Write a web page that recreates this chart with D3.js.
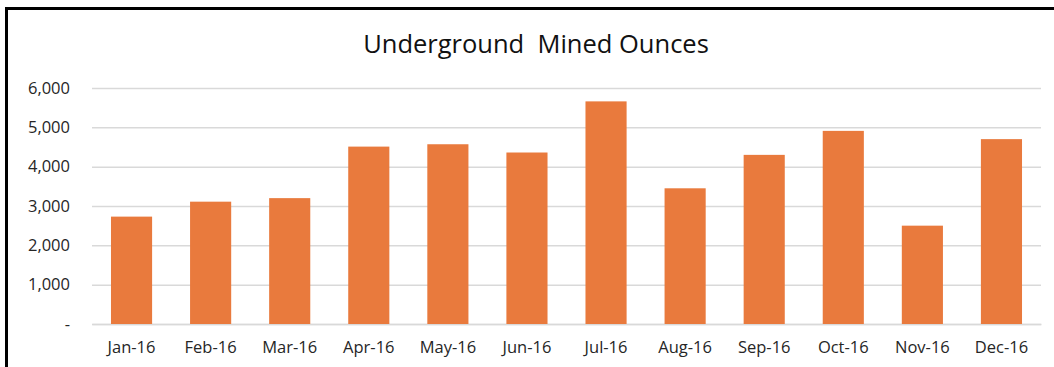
<!DOCTYPE html>
<html>
<head>
<meta charset="utf-8">
<script src="https://cdn.jsdelivr.net/npm/d3@7"></script>
<style>
  html, body { margin: 0; padding: 0; background: #fff; }
  svg { display: block; }
</style>
</head>
<body>
<svg id="chart" width="1054" height="367"></svg>
<script>
// Monthly ounces mined underground, 2016
const months = ["Jan-16", "Feb-16", "Mar-16", "Apr-16", "May-16", "Jun-16",
                "Jul-16", "Aug-16", "Sep-16", "Oct-16", "Nov-16", "Dec-16"];
const ounces = [2730, 3110, 3200, 4510, 4570, 4360, 5660, 3450, 4300, 4910, 2500, 4700];
const yTicks = [0, 1000, 2000, 3000, 4000, 5000, 6000];
const chartTitle = "Underground\u00A0\u00A0Mined Ounces";

const svg = d3.select("#chart");
const W = 1054, H = 367;
const plot = { left: 92, right: 1041, top: 88, bottom: 324 };
const font = "'Open Sans', Lato, sans-serif";

// outer frame
svg.append("rect")
  .attr("x", 6.5).attr("y", 8.5)
  .attr("width", W + 10).attr("height", H + 10)
  .attr("fill", "#fff")
  .attr("stroke", "#000").attr("stroke-width", 3);

const x = d3.scaleBand()
  .domain(months)
  .range([plot.left, plot.right])
  .paddingInner(0.48).paddingOuter(0.24);

const y = d3.scaleLinear()
  .domain([0, 6000])
  .range([plot.bottom, plot.top]);

// horizontal gridlines + y labels
const yAxis = d3.axisLeft(y)
  .tickValues(yTicks)
  .tickSize(-(plot.right - plot.left))
  .tickPadding(22)
  .tickFormat(d => d === 0 ? "-" : d3.format(",")(d));

const gy = svg.append("g")
  .attr("transform", `translate(${plot.left},0)`)
  .call(yAxis);
gy.select(".domain").remove();
gy.selectAll(".tick line")
  .attr("stroke", "#d9d9d9").attr("stroke-width", 1.5);
gy.selectAll(".tick text")
  .attr("font-family", font).attr("font-size", 16.5).attr("fill", "#262626");

// category axis
const xAxis = d3.axisBottom(x).tickSize(0).tickPadding(17);
const gx = svg.append("g")
  .attr("transform", `translate(0,${plot.bottom})`)
  .call(xAxis);
gx.select(".domain").attr("stroke", "#d9d9d9").attr("stroke-width", 1.5);
gx.selectAll(".tick text")
  .attr("font-family", font).attr("font-size", 16.5).attr("fill", "#262626");

// bars
svg.append("g")
  .selectAll("rect")
  .data(ounces)
  .join("rect")
  .attr("x", (d, i) => x(months[i]))
  .attr("width", x.bandwidth())
  .attr("y", d => y(d))
  .attr("height", d => y(0) - y(d))
  .attr("fill", "#E97A3D");

// title
svg.append("text")
  .attr("x", 536).attr("y", 53)
  .attr("text-anchor", "middle")
  .attr("font-family", font).attr("font-size", 25.5)
  .attr("fill", "#111")
  .text(chartTitle);
</script>
</body>
</html>
